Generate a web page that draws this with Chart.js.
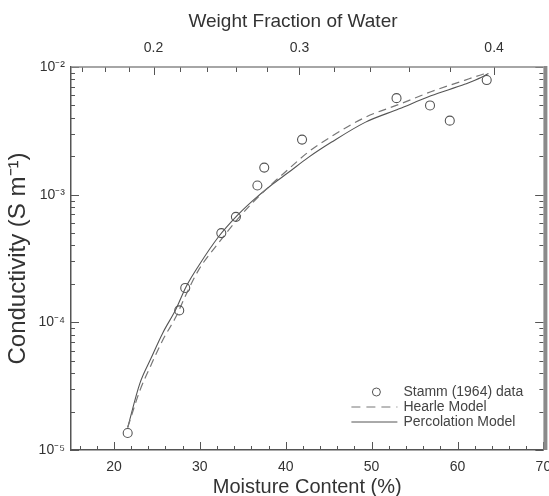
<!DOCTYPE html>
<html>
<head>
<meta charset="utf-8">
<script src="https://cdn.jsdelivr.net/npm/chart.js@4.4.1/dist/chart.umd.min.js"></script>
<style>
  html, body { margin: 0; padding: 0; background: #fff; }
  #wrap { width: 549px; height: 496px; position: relative; }
</style>
</head>
<body>
<div id="wrap"><canvas id="c"></canvas></div>
<script>
// ---- data ----
const stammMoisture = [21.6, 27.6, 28.3, 32.5, 34.2, 36.7, 37.5, 41.9, 52.9, 56.8, 59.1, 63.4];
const stammConductivity = [1.36e-5, 1.24e-4, 1.86e-4, 5.0e-4, 6.7e-4, 1.18e-3, 1.63e-3, 2.7e-3, 5.7e-3, 5.0e-3, 3.8e-3, 7.9e-3];

const modelMoisture = [21.6, 23.0, 24.3, 25.7, 27.2, 28.4, 29.9, 32.2, 34.2, 36.1, 38.2, 40.3, 42.6, 45.3, 49.3, 53.2, 56.9, 60.9, 62.8, 63.6];
const percolationConductivity = [1.5e-5, 3.3e-5, 5.2e-5, 8.3e-5, 1.26e-4, 1.9e-4, 2.8e-4, 4.7e-4, 6.7e-4, 8.9e-4, 1.17e-3, 1.49e-3, 1.95e-3, 2.57e-3, 3.7e-3, 4.7e-3, 5.95e-3, 7.35e-3, 8.3e-3, 8.9e-3];
const hearleConductivity = [1.5e-5, 2.9e-5, 4.6e-5, 7.3e-5, 1.1e-4, 1.65e-4, 2.6e-4, 4.2e-4, 6.2e-4, 8.6e-4, 1.18e-3, 1.58e-3, 2.15e-3, 2.85e-3, 4.05e-3, 5.1e-3, 6.4e-3, 7.9e-3, 8.7e-3, 9.0e-3];

const xTickValues = [20, 30, 40, 50, 60, 70];
const yTickValues = [1e-5, 1e-4, 1e-3, 1e-2];
const yTickLabels = ['10\u207B\u2075', '10\u207B\u2074', '10\u207B\u00B3', '10\u207B\u00B2'];
const topTickValues = [0.2, 0.3, 0.4];
const topTickLabels = ['0.2', '0.3', '0.4'];
const topMinorValues = [0.14, 0.16, 0.18, 0.2, 0.22, 0.24, 0.26, 0.28, 0.3, 0.32, 0.34, 0.36, 0.38, 0.4];

const seriesLabels = ['Stamm (1964) data', 'Hearle Model', 'Percolation Model'];
const topTitle = 'Weight Fraction of Water';

// weight fraction -> moisture content (%) (dry basis)
const wfToMc = w => 100 * w / (1 - w);

const FONT = "'Liberation Sans', Arial, Helvetica, sans-serif";
const TXT = '#333';
const AX = '#555';

const tickPlugin = {
  id: 'inwardTicks',
  afterDraw(chart) {
    const ctx = chart.ctx;
    const a = chart.chartArea;
    const xs = chart.scales.x, x2 = chart.scales.x2, ys = chart.scales.y;
    ctx.save();
    ctx.strokeStyle = AX;
    ctx.lineWidth = 1;
    ctx.beginPath();
    // bottom
    for (let v = 16; v <= 70; v += 2) {
      const px = Math.round(xs.getPixelForValue(v)) + 0.5;
      const len = (v % 10 === 0) ? 8 : 4;
      ctx.moveTo(px, a.bottom); ctx.lineTo(px, a.bottom - len);
    }
    // top
    topMinorValues.forEach(w => {
      const px = Math.round(x2.getPixelForValue(wfToMc(w))) + 0.5;
      const major = topTickValues.some(t => Math.abs(t - w) < 1e-9);
      const len = major ? 8 : 5;
      ctx.moveTo(px, a.top); ctx.lineTo(px, a.top + len);
    });
    // left / right
    for (let e = -5; e < -2; e++) {
      for (let m = 1; m <= 10; m++) {
        const v = m * Math.pow(10, e);
        const py = Math.round(ys.getPixelForValue(v)) + 0.5;
        const len = (m === 1 || m === 10) ? 8 : 4;
        ctx.moveTo(a.left, py); ctx.lineTo(a.left + len, py);
        ctx.moveTo(a.right, py); ctx.lineTo(a.right - len, py);
      }
    }
    ctx.stroke();
    // top border & right bar
    ctx.strokeStyle = '#888';
    ctx.lineWidth = 1.5;
    ctx.beginPath();
    ctx.moveTo(a.left, a.top); ctx.lineTo(a.right, a.top);
    ctx.stroke();
    ctx.fillStyle = '#8a8a8a';
    ctx.fillRect(a.right, a.top - 1, 4, a.bottom - a.top + 1);

    // top title
    ctx.fillStyle = TXT;
    ctx.font = "19px " + FONT;
    ctx.textAlign = 'center';
    ctx.textBaseline = 'middle';
    ctx.fillText(topTitle, 293, 22);

    // legend
    const lx = a.right - 192, ly = a.bottom - 58;
    ctx.font = "14px " + FONT;
    ctx.fillStyle = '#444';
    ctx.textBaseline = 'middle';
    ctx.textAlign = 'left';
    const rowH = 15;
    ctx.strokeStyle = '#555'; ctx.lineWidth = 1;
    ctx.beginPath(); ctx.arc(lx + 25, ly, 4, 0, Math.PI * 2); ctx.stroke();
    ctx.fillText(seriesLabels[0], lx + 52, ly);
    ctx.strokeStyle = '#777'; ctx.setLineDash([9, 6]);
    ctx.beginPath(); ctx.moveTo(lx, ly + rowH); ctx.lineTo(lx + 46, ly + rowH); ctx.stroke();
    ctx.setLineDash([]);
    ctx.fillText(seriesLabels[1], lx + 52, ly + rowH);
    ctx.strokeStyle = '#555';
    ctx.beginPath(); ctx.moveTo(lx, ly + 2 * rowH); ctx.lineTo(lx + 46, ly + 2 * rowH); ctx.stroke();
    ctx.fillText(seriesLabels[2], lx + 52, ly + 2 * rowH);
    ctx.restore();
  }
};

const stammData = stammMoisture.map((m, i) => ({ x: m, y: stammConductivity[i] }));
const percData = modelMoisture.map((m, i) => ({ x: m, y: percolationConductivity[i] }));
const hearleData = modelMoisture.map((m, i) => ({ x: m, y: hearleConductivity[i] }));

new Chart(document.getElementById('c'), {
  type: 'scatter',
  data: {
    datasets: [
      {
        label: seriesLabels[0], data: stammData, showLine: false,
        pointStyle: 'circle', pointRadius: 4.5, pointHoverRadius: 4.5,
        borderColor: '#555', backgroundColor: 'rgba(255,255,255,0)', borderWidth: 1.1,
        xAxisID: 'x', yAxisID: 'y', order: 0
      },
      {
        label: seriesLabels[1], data: hearleData, showLine: true,
        borderColor: '#777', borderWidth: 1.2, borderDash: [8, 5],
        pointRadius: 0, cubicInterpolationMode: 'monotone',
        xAxisID: 'x', yAxisID: 'y', order: 1
      },
      {
        label: seriesLabels[2], data: percData, showLine: true,
        borderColor: '#555', borderWidth: 1.1,
        pointRadius: 0, cubicInterpolationMode: 'monotone',
        xAxisID: 'x', yAxisID: 'y', order: 2
      }
    ]
  },
  options: {
    responsive: true,
    maintainAspectRatio: false,
    animation: false,
    layout: { padding: { left: 0, right: 3, top: 0, bottom: 0 } },
    plugins: { legend: { display: false }, tooltip: { enabled: false } },
    scales: {
      x: {
        type: 'linear', position: 'bottom', min: 15, max: 70,
        afterBuildTicks: s => { s.ticks = xTickValues.map(v => ({ value: v })); },
        afterFit: s => { s.height = 46; s.paddingLeft = 0; s.paddingRight = 0; },
        grid: { display: false, drawTicks: false },
        border: { display: true, color: AX, width: 1.5 },
        ticks: { autoSkip: false, maxRotation: 0, padding: 9, color: TXT, font: { family: FONT, size: 14 } },
        title: { display: true, text: 'Moisture Content (%)', color: TXT, font: { family: FONT, size: 20 }, padding: { top: 0, bottom: -3 } }
      },
      x2: {
        type: 'linear', position: 'top', min: 14.9, max: 72.7,
        afterBuildTicks: s => { s.ticks = topTickValues.map(w => ({ value: wfToMc(w) })); },
        afterFit: s => { s.height = 67; s.paddingLeft = 0; s.paddingRight = 0; },
        grid: { display: false, drawTicks: false },
        border: { display: false },
        ticks: {
          autoSkip: false, maxRotation: 0, padding: 10, color: TXT, font: { family: FONT, size: 14 },
          callback: (v, i) => topTickLabels[i]
        },
        title: { display: false }
      },
      y: {
        type: 'logarithmic', position: 'left', min: 1e-5, max: 1e-2,
        afterBuildTicks: s => { s.ticks = yTickValues.map(v => ({ value: v })); },
        afterFit: s => { s.width = 71; },
        grid: { display: false, drawTicks: false },
        border: { display: true, color: AX, width: 1.5 },
        ticks: {
          autoSkip: false, padding: 6, color: TXT, font: { family: FONT, size: 14 },
          callback: (v, i) => yTickLabels[i]
        },
        title: { display: true, text: 'Conductivity (S m\u207B\u00B9)', color: TXT, font: { family: FONT, size: 24 }, padding: { top: 4, bottom: 1 } }
      }
    }
  },
  plugins: [tickPlugin]
});
</script>
</body>
</html>
